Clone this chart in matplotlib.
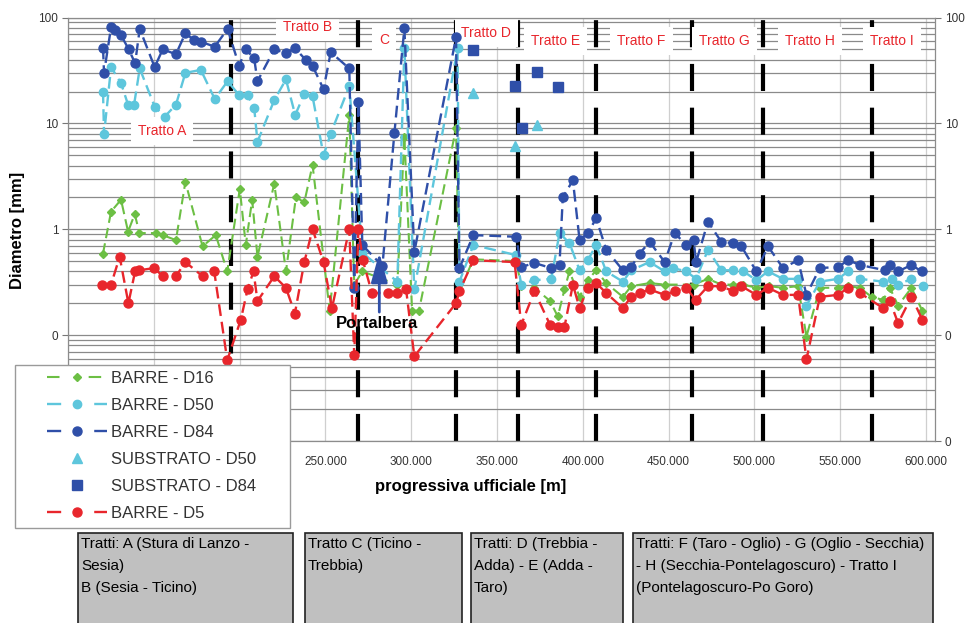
import matplotlib
matplotlib.use('Agg')
import matplotlib.pyplot as plt
from matplotlib.lines import Line2D
from matplotlib.patches import Rectangle
from matplotlib.ticker import FuncFormatter, LogLocator, MultipleLocator, NullFormatter

plt.rcParams['font.family'] = ['Liberation Sans', 'DejaVu Sans']

# ---------------- data ----------------
d84_x = [120400, 121000, 125100, 127400, 130900, 135400, 139100, 141800, 150500, 155200, 162900, 168400,
         173500, 177400, 185500, 193000, 199700, 203600, 208500, 210400, 220200, 227000, 232400, 238400,
         242500, 248900, 253100, 263900, 266800, 269200, 271500, 283200, 290200, 296000, 301800, 326100,
         328100, 336200, 361100, 364100, 371800, 381600, 386400, 388300, 394200, 398100, 402900, 407800,
         413600, 423300, 428200, 433100, 438900, 447700, 453500, 460300, 464500, 466000, 472900, 480700,
         487500, 492400, 501100, 507900, 516600, 525400, 530300, 538100, 548700, 554600, 561400, 576000,
         578900, 583700, 591500, 597400]
d84_y = [52, 30, 81, 76, 68, 50, 37, 78, 34, 50, 45, 71, 61, 59, 53, 78, 35, 50, 41, 25, 50, 46, 51, 40,
         35, 21, 47, 33, 0.28, 16, 0.71, 0.45, 8.1, 79, 0.61, 65, 0.43, 0.88, 0.85, 0.44, 0.48, 0.43, 0.46,
         2.0, 2.9, 0.79, 0.92, 1.27, 0.64, 0.41, 0.44, 0.59, 0.76, 0.49, 0.92, 0.71, 0.79, 0.49, 1.18, 0.76,
         0.74, 0.69, 0.40, 0.69, 0.43, 0.51, 0.24, 0.43, 0.44, 0.51, 0.46, 0.41, 0.46, 0.40, 0.46, 0.40]

d50_x = [120400, 121000, 125100, 130900, 135000, 138500, 141800, 150500, 156400, 162900, 168400, 177400,
         185500, 193000, 199700, 204600, 208500, 210400, 220200, 227000, 232400, 237700, 242500, 248900,
         253100, 263900, 271500, 291900, 296000, 301800, 327000, 328100, 336200, 361100, 364100, 371800,
         381600, 386400, 392200, 398100, 402900, 407800, 413600, 423300, 428200, 438900, 447700, 452500,
         460300, 466000, 472900, 480700, 487500, 493600, 501100, 507900, 516600, 525400, 530300, 538100,
         548700, 554600, 561400, 575000, 579900, 583700, 591500, 598400]
d50_y = [20, 7.9, 34, 24, 15, 15, 33, 14.4, 11.6, 15, 30, 32, 17, 25, 18.5, 18.5, 14, 6.7, 16.6, 26, 12,
         19, 18, 5, 8, 22.5, 0.6, 0.32, 51, 0.27, 51, 0.32, 0.71, 0.57, 0.30, 0.33, 0.34, 0.92, 0.74, 0.41,
         0.51, 0.71, 0.40, 0.32, 0.41, 0.49, 0.40, 0.43, 0.40, 0.34, 0.64, 0.41, 0.41, 0.40, 0.33, 0.40,
         0.34, 0.34, 0.19, 0.32, 0.34, 0.40, 0.34, 0.32, 0.34, 0.30, 0.34, 0.29]

d16_x = [120400, 125100, 130900, 135000, 138900, 141600, 151300, 155200, 162900, 168400, 178400, 186100,
         192800, 200100, 203600, 207300, 210400, 220200, 227000, 232800, 237700, 242500, 252500, 263900,
         266800, 271500, 291900, 296000, 300500, 304500, 326100, 328100, 336200, 361100, 364100, 371800,
         380900, 385400, 389300, 392200, 398100, 402900, 407800, 413600, 423300, 428200, 438900, 447700,
         464500, 472900, 480700, 487500, 493600, 501100, 508500, 516600, 525400, 530300, 538100, 548700,
         554600, 561400, 568200, 575000, 578900, 583700, 591500, 597800]
d16_y = [0.59, 1.47, 1.9, 0.95, 1.39, 0.92, 0.92, 0.88, 0.79, 2.8, 0.69, 0.88, 0.40, 2.4, 0.71, 1.9, 0.55,
         2.7, 0.40, 2.0, 1.8, 4.05, 0.17, 12, 0.3, 0.4, 0.30, 7.5, 0.17, 0.17, 9.0, 0.26, 0.52, 0.50, 0.29,
         0.28, 0.21, 0.15, 0.27, 0.40, 0.23, 0.33, 0.41, 0.31, 0.23, 0.29, 0.31, 0.30, 0.30, 0.34, 0.30,
         0.30, 0.30, 0.28, 0.29, 0.28, 0.29, 0.097, 0.28, 0.28, 0.29, 0.28, 0.23, 0.215, 0.28, 0.19, 0.28, 0.17]

d5_x = [119700, 125100, 130100, 135200, 139100, 141600, 150200, 155200, 162900, 168400, 178400, 185200,
        192800, 200700, 204600, 208100, 210400, 220200, 227000, 232200, 237700, 242500, 248900, 253800,
        263900, 266800, 269200, 271800, 277100, 286200, 291900, 297000, 301800, 326100, 328100, 336200,
        360200, 364100, 371800, 380900, 385400, 389300, 394200, 398100, 402900, 407800, 413600, 423300,
        428200, 433100, 438900, 447700, 453500, 460300, 465700, 472900, 480700, 487500, 492400, 501100,
        507900, 516600, 525400, 530300, 538100, 548700, 554600, 561400, 575000, 578900, 583700, 591500, 597800]
d5_y = [0.30, 0.30, 0.55, 0.20, 0.40, 0.41, 0.43, 0.36, 0.36, 0.49, 0.36, 0.40, 0.058, 0.14, 0.27, 0.40,
        0.21, 0.36, 0.28, 0.16, 0.49, 1.0, 0.49, 0.18, 1.0, 0.065, 1.0, 0.51, 0.25, 0.25, 0.25, 0.27, 0.063,
        0.20, 0.26, 0.51, 0.49, 0.125, 0.26, 0.125, 0.12, 0.12, 0.30, 0.18, 0.28, 0.31, 0.25, 0.18, 0.23,
        0.25, 0.27, 0.24, 0.26, 0.28, 0.215, 0.29, 0.29, 0.26, 0.29, 0.24, 0.28, 0.24, 0.24, 0.059, 0.23,
        0.24, 0.28, 0.25, 0.18, 0.21, 0.13, 0.23, 0.14]

sub50_x = [336200, 360200, 373000]
sub50_y = [19.4, 6.1, 9.6]
sub84_x = [336200, 360200, 364300, 373000, 385800]
sub84_y = [49, 22.6, 9.1, 30.6, 22]

tratto_bounds = [195000, 269000, 326000, 362500, 407500, 463500, 505000, 568500]
tratto_labels = ['Tratto A', 'Tratto B', 'C', 'Tratto D', 'Tratto E', 'Tratto F', 'Tratto G', 'Tratto H', 'Tratto I']
tratto_lab_x = [154800, 239400, 284300, 343800, 384100, 434200, 482600, 532200, 580000]
tratto_lab_y = [8.5, 81, 61, 71, 60, 60, 60, 60, 60]

legend_labels = ['BARRE - D16', 'BARRE - D50', 'BARRE - D84', 'SUBSTRATO - D50', 'SUBSTRATO - D84', 'BARRE - D5']

box_texts = ["Tratti: A (Stura di Lanzo -\nSesia)\nB (Sesia - Ticino)",
             "Tratto C (Ticino -\nTrebbia)",
             "Tratti: D (Trebbia -\nAdda) - E (Adda -\nTaro)",
             "Tratti: F (Taro - Oglio) - G (Oglio - Secchia)\n- H (Secchia-Pontelagoscuro) - Tratto I\n(Pontelagoscuro-Po Goro)"]

# ---------------- style ----------------
C84 = '#2f4fa8'
C50 = '#5ec6dc'
C16 = '#6cbf44'
C5 = '#e8262c'
W, H = 965, 623

fig = plt.figure(figsize=(9.65, 6.23), dpi=100)
ax = fig.add_axes([68 / W, 1 - 441 / H, 867 / W, (441 - 17.5) / H])
ax.set_yscale('log')
ax.set_ylim(0.01, 100)
ax.set_xlim(100000, 605200)

ax.yaxis.set_major_locator(LogLocator(base=10, numticks=10))
ax.yaxis.set_minor_locator(LogLocator(base=10, subs=range(2, 10), numticks=20))
ax.yaxis.set_minor_formatter(NullFormatter())
ax.yaxis.set_major_formatter(FuncFormatter(lambda v, p: f'{v:.0f}'))
ax.xaxis.set_major_locator(MultipleLocator(50000))
# labels left of 250.000 sit under the legend box in the reference
ax.xaxis.set_major_formatter(FuncFormatter(
    lambda v, p: f'{v:,.0f}'.replace(',', '.') if v >= 240000 else ''))

ax.set_axisbelow(True)
ax.grid(True, which='both', axis='y', color='#8a8a8a', lw=0.9)
ax.grid(True, which='major', axis='x', color='#cfcfcf', lw=0.9)
ax.tick_params(which='minor', length=0)
ax.tick_params(axis='y', which='major', direction='out', length=4, width=0.8, color='#777777',
               labelsize=8.5, labelcolor='#333333', left=True, right=True,
               labelleft=True, labelright=True, pad=3)
ax.tick_params(axis='x', which='major', length=0, pad=11, labelsize=8.5, labelcolor='#333333')
for s in ax.spines.values():
    s.set_color('#8c8c8c')
    s.set_linewidth(0.9)

for b in tratto_bounds:
    ax.axvline(b, color='black', lw=3, dashes=(6.5, 4), zorder=1.5)

for lab, lx, ly in zip(tratto_labels, tratto_lab_x, tratto_lab_y):
    ax.text(lx, ly, lab, color=C5, fontsize=10, ha='center', va='center', zorder=1.8,
            bbox=dict(facecolor='white', edgecolor='none', pad=5))

ax.plot(d16_x, d16_y, color=C16, lw=1.5, dashes=(5, 2.5), marker='D', ms=4.5, zorder=3)
ax.plot(d50_x, d50_y, color=C50, lw=1.7, dashes=(5, 2.5), marker='o', ms=6, zorder=3.1)
ax.plot(d84_x, d84_y, color=C84, lw=1.7, dashes=(5, 2.5), marker='o', ms=6.5, zorder=3.2)
ax.plot(sub50_x, sub50_y, ls='none', color=C50, marker='^', ms=7.5, zorder=3.3)
ax.plot(sub84_x, sub84_y, ls='none', color=C84, marker='s', ms=7.5, zorder=3.4)
ax.plot(d5_x, d5_y, color=C5, lw=1.7, dashes=(5, 2.5), marker='o', ms=6.5, zorder=3.5)

ax.annotate('', xy=(281400, 0.6), xytext=(281400, 0.165),
            arrowprops=dict(arrowstyle='-|>,head_length=1.8,head_width=0.5', color=C84, lw=2,
                            shrinkA=0, shrinkB=0), zorder=4)
ax.text(280200, 0.13, 'Portalbera', fontsize=12, fontweight='bold', ha='center', va='center',
        color='black', zorder=4)

# legend with separate frame
fig.add_artist(Rectangle((15 / W, 1 - 528 / H), 275 / W, 163 / H, transform=fig.transFigure,
                         facecolor='white', edgecolor='#9a9a9a', lw=1, zorder=4))
handles = [
    Line2D([], [], color=C16, lw=1.5, dashes=(6, 14), marker='D', ms=4.5),
    Line2D([], [], color=C50, lw=1.7, dashes=(6, 14), marker='o', ms=6),
    Line2D([], [], color=C84, lw=1.7, dashes=(6, 14), marker='o', ms=6.5),
    Line2D([], [], ls='none', color=C50, marker='^', ms=7.5),
    Line2D([], [], ls='none', color=C84, marker='s', ms=7.5),
    Line2D([], [], color=C5, lw=1.7, dashes=(6, 14), marker='o', ms=6.5),
]
leg = fig.legend(handles, legend_labels, loc='upper left', bbox_to_anchor=(47 / W, 1 - 371 / H),
                 frameon=False, borderpad=0, borderaxespad=0, handlelength=3.6, handletextpad=0.25,
                 labelspacing=0.72, fontsize=12, labelcolor='#333333', numpoints=1)
leg.set_zorder(5)

# axis titles
fig.text(18 / W, 1 - 230 / H, 'Diametro [mm]', rotation=90, ha='center', va='center',
         fontsize=12, fontweight='bold')
fig.text(471 / W, 1 - 487 / H, 'progressiva ufficiale [m]', ha='center', va='center',
         fontsize=12, fontweight='bold')

# bottom grey boxes
box_lr = [(78, 293), (305, 462), (471, 623), (633, 933)]
for (x0, x1), txt in zip(box_lr, box_texts):
    fig.add_artist(Rectangle((x0 / W, 1 - 630 / H), (x1 - x0) / W, (630 - 533) / H,
                             transform=fig.transFigure, facecolor='#c0c0c0', edgecolor='#222222',
                             lw=1.2, zorder=4))
    fig.text((x0 + 3) / W, 1 - 537 / H, txt, ha='left', va='top', fontsize=11, linespacing=1.72,
             color='black', zorder=5)

fig.savefig('out.png', dpi=100)
